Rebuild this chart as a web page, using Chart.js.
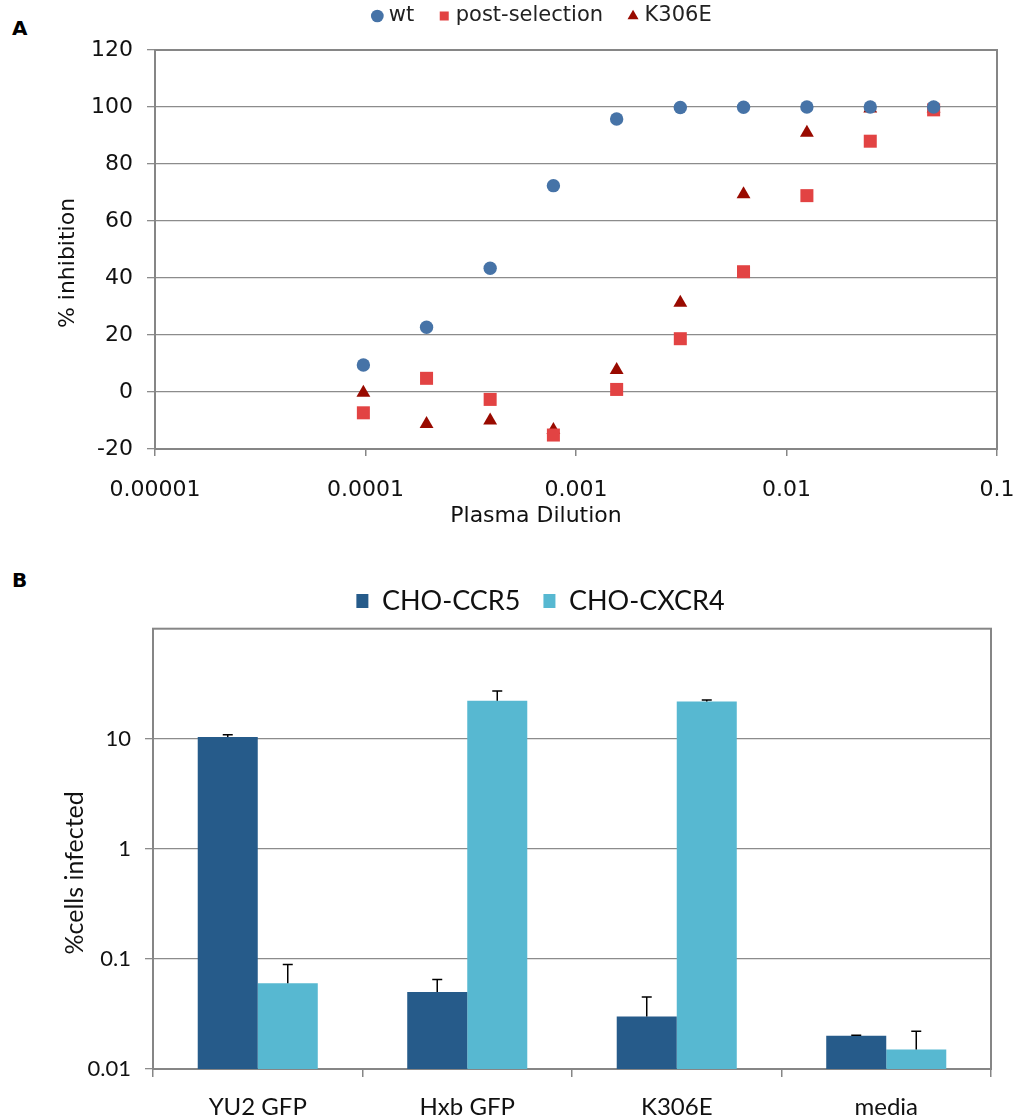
<!DOCTYPE html>
<html><head><meta charset="utf-8">
<script src="https://cdn.jsdelivr.net/npm/chart.js@4/dist/chart.umd.min.js"></script>
<style>
html,body{margin:0;padding:0;background:#fff;}
body{width:1019px;height:1118px;position:relative;overflow:hidden;}
.panel{position:absolute;left:12px;font:bold 20px 'DejaVu Sans',sans-serif;color:#000;}
#wa{position:absolute;left:0;top:0;width:1019px;height:535px;}
#wb{position:absolute;left:0;top:540px;width:1019px;height:578px;}
</style></head><body>
<div class="panel" style="top:16px">A</div>
<div class="panel" style="top:568px">B</div>
<div id="wa"><canvas id="ca" width="1019" height="535"></canvas></div>
<div id="wb"><canvas id="cb" width="1019" height="578"></canvas></div>
<script>
// ---- Panel A data ----
const dilutions = [0.0000977, 0.000195, 0.000391, 0.000781, 0.00156, 0.00313, 0.00625, 0.0125, 0.025, 0.05];
const wt = [9.5, 22.7, 43.4, 72.4, 95.8, 99.8, 99.9, 100, 100, 100];
const postSelection = [-7.3, 4.8, -2.6, -15.1, 0.9, 18.7, 42.2, 68.9, 88, 99];
const k306e = [-0.3, -11.2, -10, -13.3, 7.7, 31.3, 69.4, 91, 99.5, 99.5];
const xTicksA = [0.00001, 0.0001, 0.001, 0.01, 0.1];

// ---- Panel B data ----
const categoriesB = ['YU2 GFP', 'Hxb GFP', 'K306E', 'media'];
const ccr5 = [10.4, 0.050, 0.030, 0.020];
const ccr5Err = [0.5, 0.015, 0.015, 0.0003];
const cxcr4 = [0.060, 22.1, 21.8, 0.015];
const cxcr4Err = [0.029, 5.1, 0.7, 0.007];
const yTicksB = [0.01, 0.1, 1, 10];

const GRID = '#8c8c8c';
const AXIS = '#868686';
const FA = "'DejaVu Sans', Verdana, sans-serif";
const FB = "Lato, 'Open Sans', sans-serif";

const frame = {
  id: 'frame',
  beforeDatasetsDraw(chart, args, opts) {
    const a = chart.chartArea, ctx = chart.ctx;
    ctx.save();
    ctx.strokeStyle = opts.color || AXIS;
    ctx.lineWidth = opts.width || 2;
    ctx.strokeRect(a.left, a.top, a.right - a.left, a.bottom - a.top);
    ctx.restore();
  }
};

const errorBars = {
  id: 'errorBars',
  afterDatasetsDraw(chart, args, opts) {
    if (!opts.errors) return;
    const ctx = chart.ctx, ys = chart.scales.y;
    ctx.save();
    ctx.strokeStyle = opts.color;
    ctx.lineWidth = opts.width;
    chart.data.datasets.forEach((ds, di) => {
      const meta = chart.getDatasetMeta(di);
      const errs = opts.errors[di];
      meta.data.forEach((bar, i) => {
        const top = ys.getPixelForValue(ds.data[i] + errs[i]);
        ctx.beginPath();
        ctx.moveTo(bar.x, bar.y);
        ctx.lineTo(bar.x, top);
        ctx.moveTo(bar.x - opts.cap / 2, top);
        ctx.lineTo(bar.x + opts.cap / 2, top);
        ctx.stroke();
      });
    });
    ctx.restore();
  }
};

// axis titles placed relative to the plot area (offset like the original)
const axisTitles = {
  id: 'axisTitles',
  afterDraw(chart, args, opts) {
    const ctx = chart.ctx, a = chart.chartArea;
    (opts.items || []).forEach(t => {
      ctx.save();
      ctx.font = t.font;
      ctx.fillStyle = t.color || '#111';
      ctx.textAlign = 'center';
      ctx.textBaseline = 'middle';
      if (t.axis === 'x') {
        ctx.fillText(t.text, (a.left + a.right) / 2 + t.dx, t.y);
      } else {
        ctx.translate(t.x, (a.top + a.bottom) / 2 + t.dy);
        ctx.rotate(-Math.PI / 2);
        ctx.fillText(t.text, 0, 0);
      }
      ctx.restore();
    });
  }
};

// invisible spacer axis
const spacer = (type, pos, size) => ({
  type: type, position: pos, display: true,
  ticks: {display: false}, grid: {display: false, drawTicks: false}, border: {display: false},
  afterFit: s => {
    if (pos === 'top') { s.height = size; } else { s.width = size; }
    s.paddingLeft = 0; s.paddingRight = 0; s.paddingTop = 0; s.paddingBottom = 0;
  }
});

const pts = arr => dilutions.map((x, i) => ({x: x, y: arr[i]}));

new Chart(document.getElementById('ca'), {
  type: 'scatter',
  data: {
    datasets: [
      {label: 'wt', data: pts(wt), xAxisID: 'x', yAxisID: 'y', pointStyle: 'circle', pointRadius: 6.7, backgroundColor: '#4673a7', borderColor: '#4673a7', borderWidth: 0},
      {label: 'post-selection', data: pts(postSelection), xAxisID: 'x', yAxisID: 'y', pointStyle: 'rect', pointRadius: 9.2, backgroundColor: '#e24343', borderColor: '#e24343', borderWidth: 0},
      {label: 'K306E', data: pts(k306e), xAxisID: 'x', yAxisID: 'y', pointStyle: 'triangle', pointRadius: 8, backgroundColor: '#990a00', borderColor: '#990a00', borderWidth: 0}
    ]
  },
  options: {
    responsive: false, animation: false, devicePixelRatio: 1,
    layout: {padding: {top: -23.5, right: 22, bottom: 0, left: 91}},
    plugins: {
      legend: {position: 'top', labels: {usePointStyle: true, boxWidth: 2, boxHeight: 9, padding: 29, color: '#222', font: {family: FA, size: 21}}},
      tooltip: {enabled: false},
      frame: {color: AXIS, width: 2},
      axisTitles: {items: [
        {text: 'Plasma Dilution', axis: 'x', dx: -40, y: 516, font: "22px 'DejaVu Sans', Verdana, sans-serif"},
        {text: '% inhibition', axis: 'y', x: 68, dy: 13.5, font: "22px 'DejaVu Sans', Verdana, sans-serif"}
      ]}
    },
    scales: {
      x: {
        type: 'logarithmic', min: 0.00001, max: 0.1,
        afterBuildTicks: s => { s.ticks = xTicksA.map(v => ({value: v})); },
        afterFit: s => { s.height = 86; s.paddingLeft = 0; s.paddingRight = 0; },
        ticks: {callback: v => String(v), color: '#111', font: {family: FA, size: 22}, padding: 21, maxRotation: 0, autoSkip: false},
        grid: {drawOnChartArea: false, drawTicks: true, tickLength: 7, color: AXIS, lineWidth: 1.5},
        border: {color: AXIS, width: 2}
      },
      y: {
        min: -20, max: 120,
        afterFit: s => { s.width = 64; s.paddingTop = 0; s.paddingBottom = 0; },
        ticks: {stepSize: 20, color: '#111', font: {family: FA, size: 22}, padding: 14},
        grid: {color: GRID, lineWidth: 1.3, tickLength: 8},
        border: {color: AXIS, width: 2}
      },
      gap: spacer('linear', 'top', 13.5)
    }
  },
  plugins: [frame, axisTitles]
});

new Chart(document.getElementById('cb'), {
  type: 'bar',
  data: {
    labels: categoriesB,
    datasets: [
      {label: 'CHO-CCR5', data: ccr5, xAxisID: 'x', yAxisID: 'y', backgroundColor: '#265b8a', borderWidth: 0},
      {label: 'CHO-CXCR4', data: cxcr4, xAxisID: 'x', yAxisID: 'y', backgroundColor: '#57b8d1', borderWidth: 0}
    ]
  },
  options: {
    responsive: false, animation: false, devicePixelRatio: 1,
    datasets: {bar: {categoryPercentage: 0.573, barPercentage: 1}},
    layout: {padding: {top: 24.5, right: 0, bottom: 0, left: 62}},
    plugins: {
      legend: {position: 'top', labels: {boxWidth: 12, boxHeight: 14, padding: 23, color: '#111', font: {family: FB, size: 27}}},
      tooltip: {enabled: false},
      frame: {color: AXIS, width: 2},
      errorBars: {errors: [ccr5Err, cxcr4Err], color: '#000', width: 1.5, cap: 10},
      axisTitles: {items: [
        {text: '%cells infected', axis: 'y', x: 75, dy: 24, font: "25px Lato, 'Open Sans', sans-serif"}
      ]}
    },
    scales: {
      x: {
        afterFit: s => { s.height = 49; s.paddingLeft = 0; s.paddingRight = 0; },
        ticks: {color: '#111', font: {family: FB, size: 24}, padding: 16},
        grid: {offset: true, drawOnChartArea: false, drawTicks: true, tickLength: 8, color: AXIS, lineWidth: 1.5},
        border: {color: AXIS, width: 2}
      },
      y: {
        type: 'logarithmic', min: 0.01, max: 100,
        afterBuildTicks: s => { s.ticks = yTicksB.map(v => ({value: v})); },
        afterFit: s => { s.width = 91; s.paddingTop = 0; s.paddingBottom = 0; },
        ticks: {callback: v => String(v), color: '#111', font: {family: FB, size: 22}, padding: 14},
        grid: {color: GRID, lineWidth: 1.3, tickLength: 8},
        border: {color: AXIS, width: 2}
      },
      gap: spacer('category', 'top', 4.2),
      gapR: spacer('linear', 'right', 28)
    }
  },
  plugins: [frame, errorBars, axisTitles]
});
</script>
</body></html>
